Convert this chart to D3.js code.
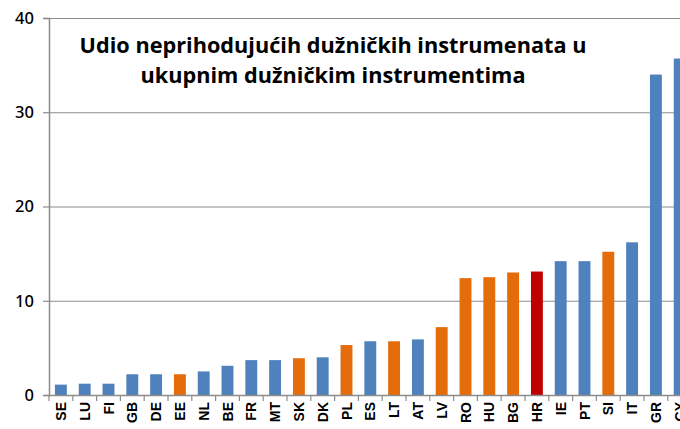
<!DOCTYPE html>
<html lang="hr">
<head>
<meta charset="utf-8"/>
<script src="https://d3js.org/d3.v7.min.js"></script>
<style>
  body { margin: 0; background: #fff; }
  svg { display: block; }
</style>
</head>
<body>
<script>
    // chart data
    var countries = ["SE", "LU", "FI", "GB", "DE", "EE", "NL", "BE", "FR", "MT", "SK", "DK", "PL", "ES",
        "LT", "AT", "LV", "RO", "HU", "BG", "HR", "IE", "PT", "SI", "IT", "GR", "CY"];
    var values = [1.1, 1.2, 1.2, 2.2, 2.2, 2.2, 2.5, 3.1, 3.7, 3.7, 3.9, 4.0, 5.3, 5.7,
        5.7, 5.9, 7.2, 12.4, 12.5, 13.0, 13.1, 14.2, 14.2, 15.2, 16.2, 34.0, 35.7];
    // group: 0 = other, 1 = highlighted group, 2 = Croatia
    var groups = [0, 0, 0, 0, 0, 1, 0, 0, 0, 0, 1, 0, 1, 0,
        1, 0, 1, 1, 1, 1, 2, 0, 0, 1, 0, 0, 0];
    var yTicks = [0, 10, 20, 30, 40];
    var titleLines = ["Udio neprihodujućih dužničkih instrumenata u", "ukupnim dužničkim instrumentima"];

    var colors = ["#4f81bd", "#e46c0a", "#c00000"];
    var width = 680, height = 429;
    var margin = {left: 49, top: 18, bottom: 34};

    var svg = d3.select("body").append("svg")
        .attr("width", width)
        .attr("height", height);

    var data = countries.map(function(c, i) {
        return {name: c, value: values[i], group: groups[i]};
    });

    // plot area is wider than the window, the last bar is cut off like in the original
    var x = d3.scaleBand()
        .domain(countries)
        .range([margin.left, margin.left + countries.length * 23.8])
        .paddingInner(0.5)
        .paddingOuter(0.25);

    var y = d3.scaleLinear()
        .domain([0, 40])
        .range([height - margin.bottom, margin.top]);

    // gridlines
    svg.append("g")
        .selectAll("line")
        .data(yTicks.slice(1))
        .enter()
        .append("line")
        .attr("x1", margin.left)
        .attr("x2", width)
        .attr("y1", function(d) { return y(d) + 0.5; })
        .attr("y2", function(d) { return y(d) + 0.5; })
        .style("stroke", "#8c8c8c")
        .style("stroke-width", 1.2);

    // bars
    svg.append("g")
        .selectAll("rect")
        .data(data)
        .enter()
        .append("rect")
        .attr("x", function(d) { return x(d.name); })
        .attr("width", x.bandwidth())
        .attr("y", function(d) { return y(d.value); })
        .attr("height", function(d) { return y(0) - y(d.value); })
        .style("fill", function(d) { return colors[d.group]; });

    // y axis
    var yAxis = svg.append("g")
        .attr("transform", "translate(" + margin.left + ",0)")
        .call(d3.axisLeft(y).tickValues(yTicks).tickSize(6).tickPadding(9));
    yAxis.select(".domain").style("stroke", "#8c8c8c").style("stroke-width", 1.5);
    yAxis.selectAll(".tick line").style("stroke", "#8c8c8c").style("stroke-width", 1.2);
    yAxis.selectAll("text")
        .style("font-family", "'Noto Sans', sans-serif")
        .style("font-size", "16.5px")
        .style("font-weight", 500)
        .style("fill", "#000");

    // x axis line with ticks between the categories
    var xg = svg.append("g");
    xg.append("line")
        .attr("x1", margin.left)
        .attr("x2", width)
        .attr("y1", y(0) + 0.5)
        .attr("y2", y(0) + 0.5)
        .style("stroke", "#8c8c8c")
        .style("stroke-width", 1.5);
    var step = x.step();
    xg.selectAll(".sep")
        .data(countries)
        .enter()
        .append("line")
        .attr("class", "sep")
        .attr("x1", function(d) { return x(d) + x.bandwidth() / 2 - step / 2; })
        .attr("x2", function(d) { return x(d) + x.bandwidth() / 2 - step / 2; })
        .attr("y1", y(0))
        .attr("y2", y(0) + 6)
        .style("stroke", "#8c8c8c")
        .style("stroke-width", 1.2);
    xg.selectAll("text")
        .data(countries)
        .enter()
        .append("text")
        .attr("transform", function(d) {
            return "translate(" + (x(d) + x.bandwidth() / 2 + 5) + "," + (y(0) + 7) + ") rotate(-90)";
        })
        .attr("text-anchor", "end")
        .style("font-family", "'Liberation Sans', Arial, sans-serif")
        .style("font-weight", "bold")
        .style("font-size", "14px")
        .text(function(d) { return d; });

    // title
    svg.append("g")
        .selectAll("text")
        .data(titleLines)
        .enter()
        .append("text")
        .attr("x", 333)
        .attr("y", function(d, i) { return 53 + i * 30; })
        .attr("text-anchor", "middle")
        .style("font-family", "'Open Sans', sans-serif")
        .style("font-weight", "bold")
        .style("font-size", "21.7px")
        .text(function(d) { return d; });
</script>
</body>
</html>
